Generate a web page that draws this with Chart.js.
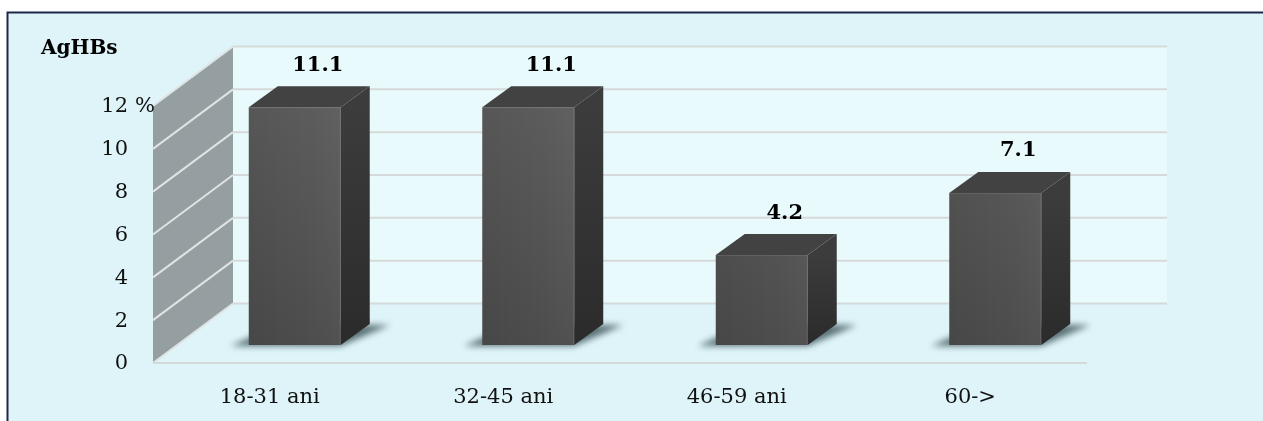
<!DOCTYPE html>
<html>
<head>
<meta charset="utf-8">
<script src="https://cdn.jsdelivr.net/npm/chart.js@4/dist/chart.umd.min.js"></script>
<style>
  html, body { margin: 0; padding: 0; background: #fff; }
</style>
</head>
<body>
<canvas id="chart" width="1263" height="421"></canvas>
<script>
const categories = ['18-31 ani', '32-45 ani', '46-59 ani', '60->'];
const values = [11.1, 11.1, 4.2, 7.1];
const yTicks = [0, 2, 4, 6, 8, 10, 12];
const axisTitle = 'AgHBs';
const unitSuffix = '%';

// oblique projection offsets, relative to the plane of the bar front faces
const FRONT = { dx: -25, dy: 18 };   // front edge of the floor
const BACK = { dx: 55, dy: -41.5 };  // back wall
const DEPTH = { dx: 29, dy: -21 };   // bar extrusion

const FONT = "'DejaVu Serif', serif";

const box3d = {
  id: 'box3d',
  beforeDraw(chart) {
    const { ctx, chartArea: a, scales: { y } } = chart;
    const W = chart.width, H = chart.height;
    ctx.save();
    // frame
    ctx.fillStyle = '#ffffff';
    ctx.fillRect(0, 0, W, H);
    ctx.fillStyle = '#def4f8';
    ctx.fillRect(8, 13, W, H);
    ctx.strokeStyle = '#1c2848';
    ctx.lineWidth = 2;
    ctx.beginPath();
    ctx.moveTo(7.5, H);
    ctx.lineTo(7.5, 12.5);
    ctx.lineTo(W, 12.5);
    ctx.stroke();

    const top = y.getPixelForValue(yTicks[yTicks.length - 1]);
    const bot = y.getPixelForValue(0);
    const bl = a.left + BACK.dx, br = a.right + BACK.dx;
    const fl = a.left + FRONT.dx, fr = a.right + FRONT.dx;

    // back wall
    ctx.fillStyle = '#e9fafc';
    ctx.fillRect(bl, top + BACK.dy, br - bl, bot - top);

    // left wall
    ctx.fillStyle = '#959fa1';
    ctx.beginPath();
    ctx.moveTo(fl, top + FRONT.dy);
    ctx.lineTo(bl, top + BACK.dy);
    ctx.lineTo(bl, bot + BACK.dy);
    ctx.lineTo(fl, bot + FRONT.dy);
    ctx.closePath();
    ctx.fill();

    // gridlines on both walls
    ctx.lineWidth = 2;
    yTicks.forEach(v => {
      const py = y.getPixelForValue(v);
      ctx.strokeStyle = '#d6d9d9';
      ctx.beginPath();
      ctx.moveTo(bl, py + BACK.dy);
      ctx.lineTo(br, py + BACK.dy);
      ctx.stroke();
      ctx.strokeStyle = '#dfe3e3';
      ctx.beginPath();
      ctx.moveTo(fl, py + FRONT.dy);
      ctx.lineTo(bl, py + BACK.dy);
      ctx.stroke();
    });

    // floor front edge
    ctx.strokeStyle = '#d6d9d9';
    ctx.beginPath();
    ctx.moveTo(fl, bot + FRONT.dy);
    ctx.lineTo(fr, bot + FRONT.dy);
    ctx.stroke();

    // soft shadows under the bars
    const meta = chart.getDatasetMeta(0);
    ctx.filter = 'blur(3px)';
    ctx.fillStyle = 'rgba(45,70,75,0.75)';
    meta.data.forEach(bar => {
      const x0 = bar.x - bar.width / 2, x1 = bar.x + bar.width / 2, b = bar.base;
      ctx.beginPath();
      ctx.moveTo(x0 - 18, b + 1);
      ctx.lineTo(x1, b + 1);
      ctx.lineTo(x1 + DEPTH.dx + 20, b + DEPTH.dy + 1);
      ctx.lineTo(x0 + DEPTH.dx, b + DEPTH.dy + 1);
      ctx.closePath();
      ctx.fill();
    });
    ctx.restore();
  },
  afterDatasetsDraw(chart) {
    const { ctx, scales: { y } } = chart;
    const meta = chart.getDatasetMeta(0);
    ctx.save();
    meta.data.forEach((bar, i) => {
      const x0 = bar.x - bar.width / 2, x1 = bar.x + bar.width / 2;
      const t = bar.y, b = bar.base;

      // lighter band on the right of the front face
      const band = ctx.createLinearGradient(x0, 0, x1, 0);
      band.addColorStop(0, 'rgba(255,255,255,0)');
      band.addColorStop(0.65, 'rgba(255,255,255,0.03)');
      band.addColorStop(1, 'rgba(255,255,255,0.06)');
      ctx.fillStyle = band;
      ctx.fillRect(x0, t, x1 - x0, b - t);

      // right side face
      const side = ctx.createLinearGradient(0, t, 0, b);
      side.addColorStop(0, '#3c3c3c');
      side.addColorStop(1, '#2b2b2b');
      ctx.fillStyle = side;
      ctx.beginPath();
      ctx.moveTo(x1, t);
      ctx.lineTo(x1 + DEPTH.dx, t + DEPTH.dy);
      ctx.lineTo(x1 + DEPTH.dx, b + DEPTH.dy);
      ctx.lineTo(x1, b);
      ctx.closePath();
      ctx.fill();

      // top face
      ctx.fillStyle = '#424242';
      ctx.beginPath();
      ctx.moveTo(x0, t);
      ctx.lineTo(x0 + DEPTH.dx, t + DEPTH.dy);
      ctx.lineTo(x1 + DEPTH.dx, t + DEPTH.dy);
      ctx.lineTo(x1, t);
      ctx.closePath();
      ctx.fill();

      // edge highlights
      ctx.strokeStyle = 'rgba(120,120,120,0.45)';
      ctx.lineWidth = 1;
      ctx.beginPath();
      ctx.moveTo(x0, t + 0.5);
      ctx.lineTo(x1, t + 0.5);
      ctx.moveTo(x1 - 0.5, t);
      ctx.lineTo(x1 - 0.5, b);
      ctx.stroke();

      // value label
      ctx.fillStyle = '#000';
      ctx.font = 'bold 21px ' + FONT;
      ctx.textAlign = 'center';
      ctx.textBaseline = 'middle';
      ctx.fillText(values[i].toFixed(1), bar.x + 23, t - 42);
    });

    // axis title and unit
    ctx.fillStyle = '#000';
    ctx.font = 'bold 20px ' + FONT;
    ctx.textAlign = 'left';
    ctx.textBaseline = 'middle';
    ctx.fillText(axisTitle, 41, 49);
    ctx.font = '21px ' + FONT;
    ctx.fillStyle = '#111';
    ctx.fillText(unitSuffix, 135, y.getPixelForValue(yTicks[yTicks.length - 1]) + 19);
    ctx.restore();
  }
};

Chart.defaults.font.family = FONT;
Chart.defaults.color = '#111';

new Chart(document.getElementById('chart'), {
  type: 'bar',
  data: {
    labels: categories,
    datasets: [{
      data: values,
      backgroundColor(c) {
        const a = c.chart.chartArea;
        if (!a) return '#505050';
        const g = c.chart.ctx.createLinearGradient(0, a.bottom, 0, a.top);
        g.addColorStop(0, '#474747');
        g.addColorStop(1, '#585858');
        return g;
      },
      borderWidth: 0,
      categoryPercentage: 1,
      barPercentage: 0.394,
    }],
  },
  options: {
    responsive: false,
    animation: false,
    events: [],
    layout: { padding: { left: 0, top: 88, right: 151, bottom: 0 } },
    plugins: {
      legend: { display: false },
      tooltip: { enabled: false },
    },
    scales: {
      x: {
        grid: { display: false, drawTicks: false },
        border: { display: false },
        ticks: { font: { size: 21 }, padding: 40, labelOffset: -25, maxRotation: 0 },
        afterFit(s) { s.height = 76; },
      },
      y: {
        min: 0,
        max: 12,
        grid: { display: false, drawTicks: false },
        border: { display: false },
        ticks: { font: { size: 21 }, padding: 50, labelOffset: 19 },
        afterBuildTicks(s) { s.ticks = yTicks.map(v => ({ value: v })); },
        afterFit(s) { s.width = 178; },
      },
    },
  },
  plugins: [box3d],
});
</script>
</body>
</html>
